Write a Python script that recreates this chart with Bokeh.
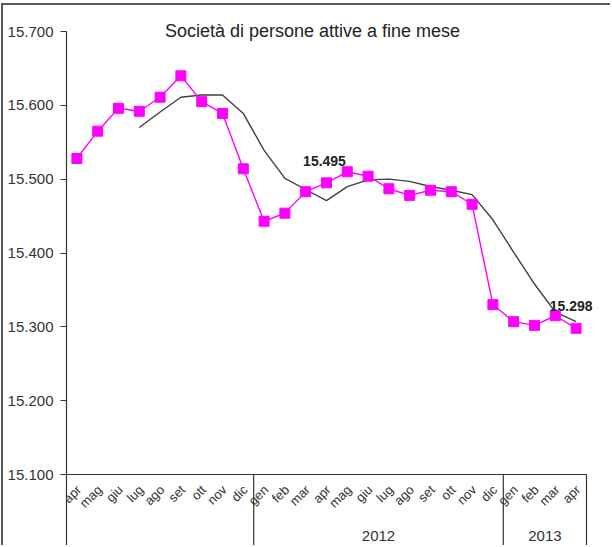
import math
from bokeh.plotting import figure
from bokeh.models import Range1d, FixedTicker, ColumnDataSource
from bokeh.core.properties import value
from bokeh.embed import file_html
from bokeh.resources import INLINE

# ---------------- data ----------------
title_text = "Società di persone attive a fine mese"
months = ["apr", "mag", "giu", "lug", "ago", "set", "ott", "nov", "dic",
          "gen", "feb", "mar", "apr", "mag", "giu", "lug", "ago", "set", "ott", "nov", "dic",
          "gen", "feb", "mar", "apr"]
years = ["", "2012", "2013"]
year_counts = [9, 12, 4]
attive = [15528, 15565, 15596, 15592, 15611, 15640, 15605, 15589, 15514,
          15443, 15454, 15483, 15495, 15510, 15504, 15487, 15478, 15485, 15483, 15466, 15330,
          15307, 15302, 15315, 15298]
media_mobile = [float("nan"), float("nan"), float("nan"), 15570, 15591, 15611, 15614, 15614, 15589,
                15539, 15501, 15486, 15471, 15490, 15499, 15500, 15497, 15490, 15485, 15479, 15445,
                15401, 15358, 15320, 15307]
labelled_points = [12, 24]
y_ticks = [15100, 15200, 15300, 15400, 15500, 15600, 15700]


def it_fmt(v):
    s = f"{int(round(v)):,}"
    return s.replace(",", ".")

# ---------------- layout (pixels) ----------------
MARGIN_L, MARGIN_T, BORDER = 1, 3, 2
FIG_X0, FIG_Y0 = MARGIN_L + BORDER, MARGIN_T + BORDER
W, H = 612 - FIG_X0, 547 - FIG_Y0
FRAME_L, FRAME_R = 66, FIG_X0 + W      # page px
AX_TOP, AX_BOT = 31, 474               # page px of 15.700 / 15.100
CAT_W = 20.8
Y_PER_PX = (y_ticks[-1] - y_ticks[0]) / (AX_BOT - AX_TOP)

x_end = (FRAME_R - FRAME_L) / CAT_W
y_top = y_ticks[-1] + (AX_TOP - FIG_Y0) * Y_PER_PX
y_bot = y_ticks[0] - (FIG_Y0 + H - AX_BOT) * Y_PER_PX


def px_x(px):
    return (px - FRAME_L) / CAT_W


def px_y(py):
    return y_ticks[-1] - (py - AX_TOP) * Y_PER_PX


FONT = "Liberation Sans"
TXT = "#333333"

p = figure(width=W, height=H, output_backend="svg", toolbar_location=None,
           x_range=Range1d(0, x_end), y_range=Range1d(y_bot, y_top),
           x_axis_location=None,
           min_border_left=FRAME_L - FIG_X0, min_border_right=0,
           min_border_top=0, min_border_bottom=0)
p.styles = {"border-top": f"{BORDER}px solid #5a5a5a", "border-left": f"{BORDER}px solid #5a5a5a",
            "margin-left": f"{MARGIN_L}px", "margin-top": f"{MARGIN_T}px"}
p.outline_line_color = None
p.grid.visible = False
p.background_fill_color = "white"
p.border_fill_color = "white"

ya = p.yaxis[0]
ya.ticker = FixedTicker(ticks=y_ticks)
ya.major_label_overrides = {t: it_fmt(t) for t in y_ticks}
ya.bounds = (y_bot, y_ticks[-1])
ya.axis_line_color = "#333333"
ya.axis_line_width = 1.2
ya.major_tick_line_color = "#333333"
ya.major_tick_out = 6
ya.major_tick_in = 0
ya.minor_tick_line_color = None
ya.major_label_standoff = 7
ya.major_label_text_font = FONT
ya.major_label_text_font_size = "15px"
ya.major_label_text_color = TXT

# x axis line and group separators
n = len(months)
p.segment(x0=[0], y0=[y_ticks[0]], x1=[n], y1=[y_ticks[0]], line_color="#333333", line_width=1.2)
bounds = [0]
for c in year_counts:
    bounds.append(bounds[-1] + c)
sep_x = bounds[1:]
p.segment(x0=sep_x, y0=[y_bot] * len(sep_x), x1=sep_x, y1=[y_ticks[0]] * len(sep_x),
          line_color="#333333", line_width=1.2)

# month labels
xc = [i + 0.5 for i in range(n)]
p.text(x=xc, y=[y_ticks[0]] * n, text=months, angle=math.pi / 4,
       text_align="right", text_baseline="middle", x_offset=2, y_offset=13,
       text_font=value(FONT), text_font_size="13px", text_color=TXT)

# year labels
yx, yt = [], []
for i, yname in enumerate(years):
    if yname:
        yx.append((bounds[i] + bounds[i + 1]) / 2)
        yt.append(yname)
p.text(x=yx, y=[px_y(535)] * len(yx), text=yt, text_align="center", text_baseline="middle",
       text_font=value(FONT), text_font_size="15px", text_color=TXT)

# series
src = ColumnDataSource(dict(x=xc, a=attive, m=media_mobile))
p.line("x", "m", source=src, line_color="#404040", line_width=1.4)
p.line("x", "a", source=src, line_color="#FF00FF", line_width=1.4)
p.scatter("x", "a", source=src, marker="square", size=10, fill_color="#FF00FF",
          line_color="#FF00FF")

# data labels
offs = [-2, -5]
for k, i in enumerate(labelled_points):
    p.text(x=[xc[i]], y=[attive[i]], text=[it_fmt(attive[i])], text_align="center",
           text_baseline="bottom", x_offset=offs[k], y_offset=-17,
           text_font=value(FONT), text_font_size="14px", text_font_style="bold",
           text_color="#222222")

# title
p.text(x=[px_x(312)], y=[px_y(30)], text=[title_text], text_align="center",
       text_baseline="middle", text_font=value(FONT), text_font_size="18px", text_color="#222222")

open("out.html", "w").write(file_html(p, INLINE))
